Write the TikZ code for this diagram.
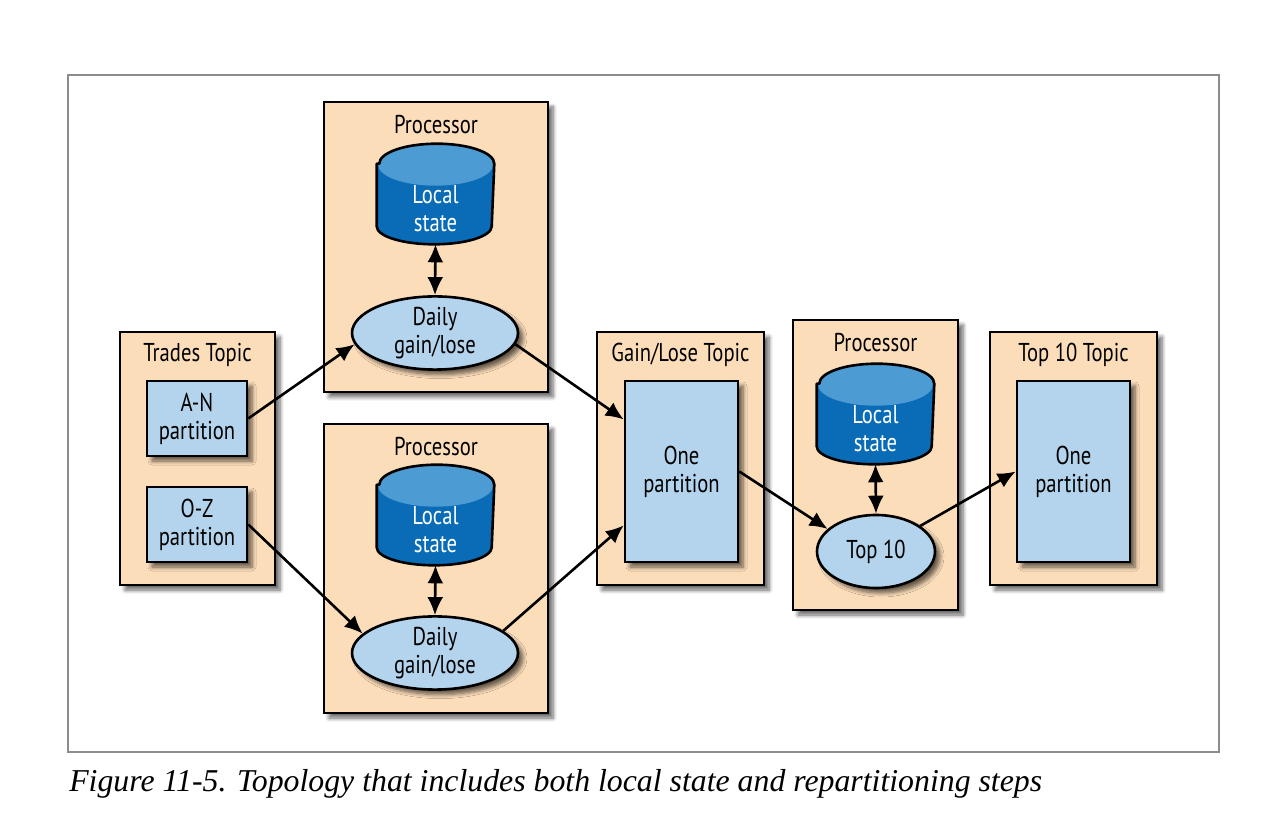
\documentclass[tikz,border=0pt]{standalone}
\usepackage{fontspec}
\setmainfont{PT Sans}[FakeStretch=0.8]
\newfontfamily\capfont{Liberation Serif}
\usetikzlibrary{arrows.meta,positioning,shapes.geometric,shadows.blur}
\definecolor{peach}{HTML}{FCDDBA}
\definecolor{pale}{HTML}{B3D4EC}
\definecolor{deep}{HTML}{0A6CB6}
\definecolor{light}{HTML}{4C9BD2}
\begin{document}
\begin{tikzpicture}[x=0.5pt,y=-0.5pt,>={Latex[length=9pt,width=8pt]},line width=1.3pt,
 fs/.style={font=\fontsize{12.9}{14}\selectfont},
 shd/.style={blur shadow={shadow xshift=2.5pt,shadow yshift=-2.5pt,shadow blur steps=6,shadow opacity=60}},
 grp/.style={draw,fill=peach,inner sep=0pt,shd},
 prt/.style={draw,fill=pale,inner sep=0pt,align=center,fs,shd},
 cyl/.style={minimum width=57.5pt,minimum height=49pt,inner sep=0pt},
 lbl/.style={text=white,align=center,fs,inner sep=0pt},
 op/.style={ellipse,draw,fill=pale,align=center,fs,inner sep=0pt,shd}]
\useasboundingbox (0,0) rectangle (1265,833);
\draw[black!45,line width=0.6pt] (68,75) rectangle (1219,752);
\node[anchor=base west,inner sep=0pt,font=\capfont\itshape\fontsize{15.9}{18}\selectfont] (cap) at (68,792)
 {Figure 11-5. Topology that includes both local state and repartitioning steps};

\node[grp,minimum width=77.5pt,minimum height=126.5pt] (tr) at (197.5,458.5) {};
\node[fs] at ([yshift=-12pt]tr.north) {Trades Topic};
\node[prt,minimum width=50pt,minimum height=37.5pt] (an) at (197,418.5) {A-N\\partition};
\node[prt,minimum width=50pt,minimum height=37.5pt] (oz) at (197,524.5) {O-Z\\partition};

\node[grp,minimum width=112pt,minimum height=145pt] (p1) at (436,247) {};
\node[fs] at ([yshift=-12pt]p1.north) {Processor};
\node[cyl] (c1) at (435.5,194) {};
\node[op,minimum width=83pt,minimum height=33pt] (e1) at (435,333) {Daily\\gain/lose};

\node[grp,minimum width=112pt,minimum height=144.5pt] (p2) at (436,568.5) {};
\node[fs] at ([yshift=-12pt]p2.north) {Processor};
\node[cyl] (c2) at (435.5,515) {};
\node[op,minimum width=83pt,minimum height=33pt] (e2) at (435,653) {Daily\\gain/lose};

\node[grp,minimum width=83.5pt,minimum height=126.5pt] (gl) at (680.5,458.5) {};
\node[fs] at ([yshift=-12pt]gl.north) {Gain/Lose Topic};
\node[prt,minimum width=56.5pt,minimum height=90.5pt] (o1) at (681.5,471.5) {One\\partition};

\node[grp,minimum width=82.5pt,minimum height=145pt] (p3) at (875.5,465) {};
\node[fs] at ([yshift=-12pt]p3.north) {Processor};
\node[cyl] (c3) at (875.5,414) {};
\node[op,minimum width=59pt,minimum height=36.5pt] (e3) at (876,551.5) {Top 10};

\node[grp,minimum width=83.5pt,minimum height=126.5pt] (tt) at (1073.5,458.5) {};
\node[fs] at ([yshift=-12pt]tt.north) {Top 10 Topic};
\node[prt,minimum width=56.5pt,minimum height=90.5pt] (o2) at (1073.5,471.5) {One\\partition};

\foreach \c in {c1,c2,c3}{
 \fill[deep] ([yshift=-10pt]\c.north west) -- ([yshift=9pt]\c.south west)
  arc[start angle=180,end angle=360,x radius=28.75pt,y radius=9pt] -- ([yshift=-10pt]\c.north east)
  arc[start angle=0,end angle=180,x radius=28.75pt,y radius=10pt] -- cycle;
 \fill[light] ([yshift=-10.5pt]\c.north) ellipse[x radius=28.75pt,y radius=10.5pt];
 \draw[line join=round] ([yshift=-10pt]\c.north west) -- ([yshift=9pt]\c.south west)
  arc[start angle=180,end angle=360,x radius=28.75pt,y radius=9pt] -- ([yshift=-10pt]\c.north east)
  arc[start angle=0,end angle=180,x radius=28.75pt,y radius=10pt] -- cycle;
 \node[lbl] (\c t) at ([yshift=-7.5pt]\c) {Local\\state};
}

\draw[<->] (c1.south) -- (e1.north);
\draw[<->] (c2.south) -- (e2.north);
\draw[<->] (c3.south) -- (e3.north);
\draw[->] (an.east) -- (e1.188);
\draw[->] (oz.east) -- (e2.165);
\draw[->] (e1.-8) -- (o1.138);
\draw[->] (e2.18) -- (o1.223);
\draw[->] (o1.east) -- (e3.155);
\draw[->] (e3.30) -- (o2.west);
\end{tikzpicture}
\end{document}
